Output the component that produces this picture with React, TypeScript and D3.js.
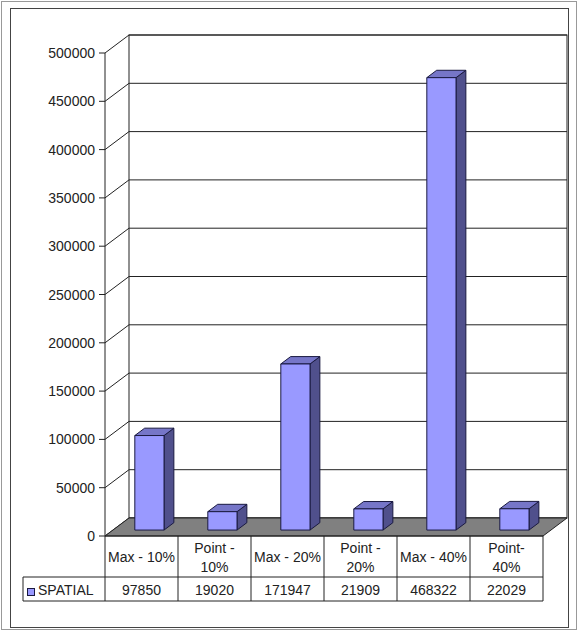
import * as d3 from "d3";

const CATEGORIES = ["Max - 10%", "Point - 10%", "Max - 20%", "Point - 20%", "Max - 40%", "Point - 40%"];
const HEADER_LINES = [["Max - 10%"], ["Point -", "10%"], ["Max - 20%"], ["Point -", "20%"], ["Max - 40%"], ["Point-", "40%"]];
const SPATIAL = [97850, 19020, 171947, 21909, 468322, 22029];
const SERIES_NAME = "SPATIAL";
const Y_TICKS = [0, 50000, 100000, 150000, 200000, 250000, 300000, 350000, 400000, 450000, 500000];

const W = 578;
const H = 631;
const FONT = "Arial, 'Liberation Sans', sans-serif";

// 3d geometry
const axisX = 105;
const plotRight = 543;
const floorY = 536;
const DX = 24;
const DY = 18;
const F0 = 0.33; // bar front depth fraction
const F1 = 0.74; // bar back depth fraction

const FRONT = "#9999ff";
const SIDE = "#50508c";
const TOP = "#7676c8";
const EDGE = "#1a1a40";

export default function App() {
  const x = d3.scaleBand<string>().domain(CATEGORIES).range([axisX, plotRight]).padding(0);
  const y = d3.scaleLinear().domain([0, 500000]).range([floorY, 53]);
  const step = x.step();
  const barW = step * 0.4;

  const headerBottom = 577;
  const rowBottom = 601;
  const legendLeft = 23;

  const pts = (arr: [number, number][]) => arr.map((p) => p.join(",")).join(" ");

  return (
    <svg width={W} height={H} style={{position: "absolute", left: 0, top: 0, background: "#fff"}} fontFamily={FONT}>
      <rect x={1.5} y={1.5} width={W - 3} height={H - 3} fill="none" stroke="#999" />
      <rect x={10.5} y={8.5} width={558} height={619} fill="#fff" stroke="#444" />

      {/* back wall */}
      <rect x={axisX + DX} y={y(500000) - DY} width={plotRight - axisX} height={y(0) - y(500000)} fill="#fff" stroke="#222" />

      {Y_TICKS.map((t) => (
        <g key={t}>
          <line x1={axisX + DX} x2={plotRight + DX} y1={y(t) - DY} y2={y(t) - DY} stroke="#222" />
          <line x1={axisX} x2={axisX + DX} y1={y(t)} y2={y(t) - DY} stroke="#222" />
          <line x1={axisX - 6} x2={axisX} y1={y(t)} y2={y(t)} stroke="#222" />
          <text x={95} y={y(t) + 5} textAnchor="end" fontSize={14} fill="#222">
            {t}
          </text>
        </g>
      ))}

      {/* floor */}
      <polygon
        points={pts([
          [axisX, floorY],
          [plotRight, floorY],
          [plotRight + DX, floorY - DY],
          [axisX + DX, floorY - DY]
        ])}
        fill="#808080"
        stroke="#222"
      />

      {/* bars */}
      {CATEGORIES.map((c, i) => {
        const x0 = (x(c) ?? 0) + (step - barW) / 2 + F0 * DX;
        const x1 = x0 + barW;
        const yb = y(0) - F0 * DY;
        const yt = y(SPATIAL[i]) - F0 * DY;
        const ddx = (F1 - F0) * DX;
        const ddy = (F1 - F0) * DY;
        return (
          <g key={c} stroke={EDGE} strokeWidth={1} strokeLinejoin="round">
            <polygon points={pts([[x1, yb], [x1 + ddx, yb - ddy], [x1 + ddx, yt - ddy], [x1, yt]])} fill={SIDE} />
            <polygon points={pts([[x0, yt], [x1, yt], [x1 + ddx, yt - ddy], [x0 + ddx, yt - ddy]])} fill={TOP} />
            <rect x={x0} y={yt} width={barW} height={yb - yt} fill={FRONT} />
          </g>
        );
      })}

      {/* front axis line */}
      <line x1={axisX} x2={axisX} y1={y(500000)} y2={rowBottom} stroke="#222" />

      {/* data table */}
      <line x1={axisX} x2={plotRight} y1={floorY} y2={floorY} stroke="#222" />
      <line x1={legendLeft} x2={plotRight} y1={headerBottom} y2={headerBottom} stroke="#222" />
      <line x1={legendLeft} x2={plotRight} y1={rowBottom} y2={rowBottom} stroke="#222" />
      <line x1={legendLeft} x2={legendLeft} y1={headerBottom} y2={rowBottom} stroke="#222" />
      {CATEGORIES.map((c) => (
        <line key={c} x1={(x(c) ?? 0) + step} x2={(x(c) ?? 0) + step} y1={floorY} y2={rowBottom} stroke="#222" />
      ))}
      {CATEGORIES.map((c, i) => {
        const cx = (x(c) ?? 0) + step / 2;
        const lines = HEADER_LINES[i];
        return (
          <g key={c}>
            {lines.map((l, j) => (
              <text
                key={j}
                x={cx}
                y={lines.length === 1 ? 562 : 553 + j * 19}
                textAnchor="middle"
                fontSize={14}
                fill="#222"
              >
                {l}
              </text>
            ))}
            <text x={cx} y={595} textAnchor="middle" fontSize={14} fill="#222">
              {SPATIAL[i]}
            </text>
          </g>
        );
      })}
      <rect x={27.5} y={588.5} width={7} height={7} fill={FRONT} stroke={EDGE} />
      <text x={38} y={595} fontSize={14} fill="#222">
        {SERIES_NAME}
      </text>
    </svg>
  );
}
